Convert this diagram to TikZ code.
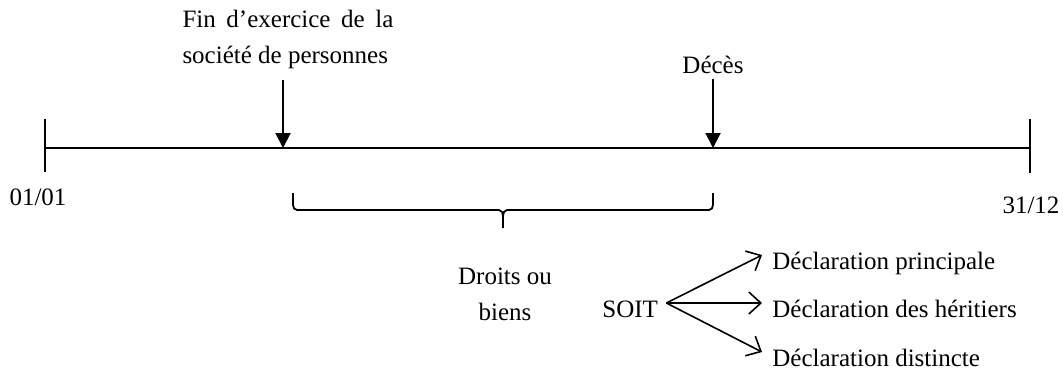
\documentclass[tikz,border=0pt]{standalone}
\usepackage{fontspec}
\setmainfont{Liberation Serif}
\usepackage{tikz}
\usetikzlibrary{arrows.meta,calc}

\begin{document}
\begin{tikzpicture}[x=0.5pt,y=-0.5pt,>=Stealth,
    lbl/.style={inner sep=0pt,font=\fontsize{12.5}{18}\selectfont},
    down/.style={-{Triangle[length=7.5pt,width=7.5pt]},line width=1pt},
    choice/.style={-{Straight Barb[length=6pt,width=11pt]},line width=0.8pt}]
  \useasboundingbox (0,0) rectangle (1063,370);
  \coordinate (start) at (45,148);
  \coordinate (end) at (1030,148);
  \draw[line width=1pt] (start) -- (end);
  \draw[line width=1pt] ($(start)+(0,-29)$) -- ($(start)+(0,24)$);
  \draw[line width=1pt] ($(end)+(0,-29)$) -- ($(end)+(0,25)$);
  \node[lbl,anchor=base] (jan) at (38,205) {01/01};
  \node[lbl,anchor=base] (dec) at (1031,213) {31/12};

  \node[lbl,text width=105.5pt,align=justify,anchor=north] (fin) at (288,10)
    {Fin d’exercice de la société de personnes};
  \node[lbl,anchor=base] (deces) at (713,73) {Décès};
  \coordinate (p1) at (283,148);
  \coordinate (p2) at (713,148);
  \draw[down,shorten <=5.5pt] (fin.south -| p1) -- (p1);
  \draw[down,shorten <=2.5pt] (deces.south) -- (p2);

  \coordinate (bl) at (293,193);
  \coordinate (br) at (713,193);
  \coordinate (tip) at (503,228);
  \draw[line width=0.9pt] (bl) -- ++(0,12) to[out=-90,in=180] ++(4,5) -- ($(tip)+(-4,-18)$)
    to[out=0,in=90] ($(tip)+(0,-12)$) -- (tip);
  \draw[line width=0.9pt] ($(tip)+(0,-12)$) to[out=90,in=180] ($(tip)+(4,-18)$)
    -- ($(br)+(-4,17)$) to[out=0,in=-90] ($(br)+(0,12)$) -- (br);
  \node[lbl,align=center,anchor=north] (droits) at (505,268) {Droits ou\\biens};

  \node[lbl,anchor=base west] (soit) at (602,317) {SOIT};
  \coordinate (fork) at ($(soit.base east)+(8,-14)$);
  \node[lbl,anchor=base west] (dp) at (772,269) {Déclaration principale};
  \node[lbl,anchor=base west] (dh) at (772,317) {Déclaration des héritiers};
  \node[lbl,anchor=base west] (dd) at (772,366) {Déclaration distincte};
  \foreach \d in {dp,dh,dd}
    \draw[choice] (fork) -- ($(\d.base west)+(-10,-14)$);
\end{tikzpicture}
\end{document}
